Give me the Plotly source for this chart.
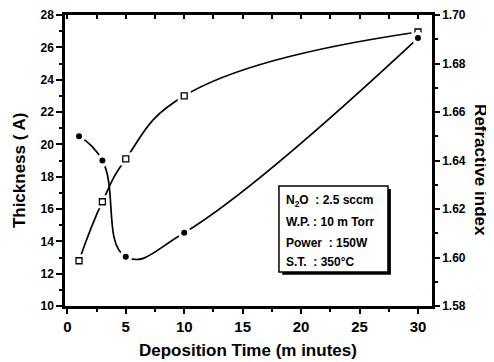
import plotly.graph_objects as go

time_min = [1, 3, 5, 10, 30]
thickness = [12.8, 16.45, 19.1, 23.0, 26.95]
refractive = [1.650, 1.640, 1.6003, 1.6102, 1.6905]

x_ticks = [0, 5, 10, 15, 20, 25, 30]
left_ticks = [10, 12, 14, 16, 18, 20, 22, 24, 26, 28]
right_ticks = [1.58, 1.60, 1.62, 1.64, 1.66, 1.68, 1.70]

x_title = "Deposition Time (m inutes)"
left_title = "Thickness ( A)"
right_title = "Refractive index"
box_lines = ["N<sub>2</sub>O  : 2.5 sccm", "W.P. : 10 m Torr", "Power  : 150W", "S.T.  : 350°C"]

FONT = "Liberation Sans, Arial, sans-serif"
bold = lambda s: "<b>" + s + "</b>"

fig = go.Figure()

# thickness: line, white halo, open squares
fig.add_trace(go.Scatter(x=time_min, y=thickness, mode="lines",
                         line=dict(color="black", width=1.7, shape="spline", smoothing=1.3),
                         hoverinfo="skip", showlegend=False))
fig.add_trace(go.Scatter(x=time_min, y=thickness, mode="markers",
                         marker=dict(symbol="square", size=13, color="white", line=dict(width=0)),
                         hoverinfo="skip", showlegend=False))
fig.add_trace(go.Scatter(x=time_min, y=thickness, mode="markers", name="Thickness",
                         marker=dict(symbol="square-open", size=6, color="black", line=dict(width=1.3)),
                         showlegend=False))

# refractive index on right axis
fig.add_trace(go.Scatter(x=time_min, y=refractive, mode="lines", yaxis="y2",
                         line=dict(color="black", width=1.7, shape="spline", smoothing=1.3),
                         hoverinfo="skip", showlegend=False))
fig.add_trace(go.Scatter(x=time_min, y=refractive, mode="markers", yaxis="y2",
                         marker=dict(symbol="circle", size=13, color="white", line=dict(width=0)),
                         hoverinfo="skip", showlegend=False))
fig.add_trace(go.Scatter(x=time_min, y=refractive, mode="markers", yaxis="y2", name="Refractive index",
                         marker=dict(symbol="circle", size=6, color="black"),
                         showlegend=False))

# helper trace for top mirrored axis
fig.add_trace(go.Scatter(x=time_min, y=thickness, xaxis="x2", mode="markers",
                         marker=dict(opacity=0), hoverinfo="skip", showlegend=False))

axis_common = dict(showline=True, linecolor="black", linewidth=2.5, showgrid=False, zeroline=False,
                   automargin=False)

# page body has an 8px margin, so the figure is sized/offset to land on the 494x362 window
fig.update_layout(
    width=486, height=354,
    margin=dict(l=57, r=62, t=7, b=56),
    paper_bgcolor="white", plot_bgcolor="white",
    font=dict(family=FONT, color="black"),
    xaxis=dict(range=[-0.2, 31.2], tickvals=x_ticks, ticktext=[bold(str(v)) for v in x_ticks],
               ticks="outside", ticklen=5, tickwidth=1.5,
               tickcolor="black", tickfont=dict(size=15),
               minor=dict(dtick=2.5, ticks="outside", ticklen=3, tickwidth=1.5, tickcolor="black"),
               **axis_common),
    xaxis2=dict(overlaying="x", matches="x", side="top", dtick=2.5, tick0=0, ticks="inside",
                ticklen=4, tickwidth=1.5, tickcolor="black", showticklabels=False, **axis_common),
    yaxis=dict(range=[10, 28], tickvals=left_ticks, ticktext=[bold(str(v)) for v in left_ticks],
               ticks="outside", ticklen=6, tickwidth=1.5,
               tickcolor="black", tickfont=dict(size=12),
               minor=dict(dtick=1, ticks="outside", ticklen=3, tickwidth=1.5, tickcolor="black"),
               **axis_common),
    yaxis2=dict(range=[1.58, 1.70], overlaying="y", side="right", tickvals=right_ticks,
                ticktext=[bold(f"{v:.2f}") for v in right_ticks], ticks="outside", ticklen=5,
                tickwidth=1.5, tickcolor="black", tickfont=dict(size=12),
                minor=dict(dtick=0.01, ticks="outside", ticklen=3, tickwidth=1.5, tickcolor="black"),
                **axis_common),
)

# axis titles as annotations (paper = plot-area fractions)
fig.add_annotation(xref="paper", yref="paper", x=0.4986, y=-0.1546, text=bold(x_title),
                   showarrow=False, xanchor="center", yanchor="middle", font=dict(size=17))
fig.add_annotation(xref="paper", yref="paper", x=-0.1253, y=0.467, text=bold(left_title),
                   textangle=-90, showarrow=False, xanchor="center", yanchor="middle", font=dict(size=17))
fig.add_annotation(xref="paper", yref="paper", x=1.1335, y=0.467, text=bold(right_title),
                   textangle=90, showarrow=False, xanchor="center", yanchor="middle", font=dict(size=17))

# info box with shadow
fig.add_shape(type="rect", xref="x domain", yref="y domain", x0=0.592, x1=0.888, y0=0.107, y1=0.402,
              fillcolor="black", line=dict(width=0), layer="above")
fig.add_shape(type="rect", xref="x domain", yref="y domain", x0=0.583, x1=0.880, y0=0.117, y1=0.412,
              fillcolor="white", line=dict(color="black", width=1.5), layer="above")
ys = [0.362, 0.290, 0.218, 0.152]
for txt, yy in zip(box_lines, ys):
    fig.add_annotation(xref="x domain", yref="y domain", x=0.596, y=yy, text=bold(txt), showarrow=False,
                       xanchor="left", yanchor="middle", font=dict(size=12, family=FONT))

fig.write_html("out.html")
